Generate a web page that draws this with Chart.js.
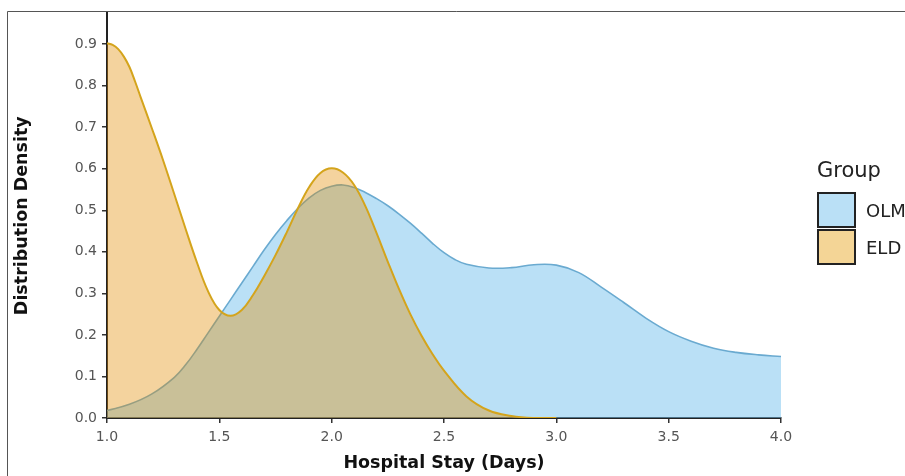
<!DOCTYPE html>
<html>
<head>
<meta charset="utf-8">
<script src="https://cdn.jsdelivr.net/npm/chart.js@4"></script>
<style>
html,body{margin:0;padding:0;background:#fff;overflow:hidden;}
#wrap{position:absolute;left:0;top:0;width:905px;height:476px;}
</style>
</head>
<body>
<div id="wrap"><canvas id="c" width="905" height="476"></canvas></div>
<script>
// ---- data ----
const groupNames = ["OLM", "ELD"];
const olmX = [1.0,1.1,1.2,1.3,1.35,1.4,1.45,1.5,1.55,1.6,1.65,1.7,1.75,1.8,1.85,1.9,1.95,2.0,2.05,2.1,2.15,2.2,2.25,2.3,2.35,2.4,2.45,2.5,2.55,2.6,2.7,2.8,2.9,3.0,3.1,3.2,3.3,3.4,3.5,3.6,3.7,3.8,3.9,4.0];
const olmY = [0.018,0.033,0.058,0.098,0.128,0.165,0.205,0.245,0.285,0.325,0.365,0.405,0.442,0.475,0.505,0.530,0.548,0.558,0.561,0.555,0.543,0.528,0.511,0.491,0.469,0.445,0.420,0.398,0.381,0.370,0.361,0.362,0.369,0.368,0.350,0.315,0.278,0.240,0.208,0.185,0.168,0.158,0.152,0.148];
const eldX = [1.0,1.025,1.05,1.075,1.1,1.125,1.15,1.2,1.25,1.3,1.35,1.4,1.45,1.5,1.55,1.6,1.65,1.7,1.75,1.8,1.85,1.9,1.95,2.0,2.05,2.1,2.15,2.2,2.25,2.3,2.35,2.4,2.45,2.5,2.6,2.7,2.8,2.9,3.0];
const eldY = [0.902,0.898,0.888,0.87,0.845,0.81,0.772,0.697,0.62,0.538,0.455,0.375,0.305,0.260,0.246,0.260,0.296,0.342,0.392,0.447,0.505,0.556,0.590,0.601,0.591,0.561,0.510,0.445,0.376,0.310,0.250,0.198,0.153,0.114,0.052,0.018,0.005,0.0,0.0];
const xTicks = [1.0,1.5,2.0,2.5,3.0,3.5,4.0];
const yTicks = [0.0,0.1,0.2,0.3,0.4,0.5,0.6,0.7,0.8,0.9];
const legendTitle = "Group";
const xTitle = "Hospital Stay (Days)";
const yTitle = "Distribution Density";

const toPts = (xs, ys) => xs.map((x, i) => ({x: x, y: ys[i]}));

const OLM_FILL = 'rgba(117,193,237,0.5)';
const ELD_FILL = 'rgba(226,140,0,0.38)';
const OLM_LINE = '#6aaad0';
const ELD_LINE = '#d4a41c';

const framePlugin = {
  id: 'frame',
  beforeDraw(chart) {
    const ctx = chart.ctx;
    ctx.save();
    ctx.fillStyle = '#fff';
    ctx.fillRect(0, 0, chart.width, chart.height);
    ctx.strokeStyle = '#555';
    ctx.lineWidth = 1;
    ctx.beginPath();
    ctx.moveTo(7.5, 476);
    ctx.lineTo(7.5, 11.5);
    ctx.lineTo(905, 11.5);
    ctx.stroke();
    ctx.restore();
  }
};

const legendPlugin = {
  id: 'customLegend',
  afterDraw(chart) {
    const ctx = chart.ctx;
    ctx.save();
    ctx.fillStyle = '#222';
    ctx.textBaseline = 'middle';
    ctx.textAlign = 'left';
    ctx.font = '21px "DejaVu Sans"';
    ctx.fillText(legendTitle, 817, 172);
    const fills = ['rgb(186,224,246)', 'rgb(244,213,150)'];
    const tops = [193, 230];
    ctx.font = '18px "DejaVu Sans"';
    groupNames.forEach((name, i) => {
      ctx.fillStyle = fills[i];
      ctx.fillRect(818, tops[i], 37, 34);
      ctx.strokeStyle = '#222';
      ctx.lineWidth = 2;
      ctx.strokeRect(818, tops[i], 37, 34);
      ctx.fillStyle = '#222';
      ctx.fillText(name, 866, tops[i] + 19);
    });
    ctx.restore();
  }
};

new Chart(document.getElementById('c'), {
  type: 'line',
  data: {
    datasets: [
      {
        label: groupNames[1],
        data: toPts(eldX, eldY),
        borderColor: ELD_LINE,
        backgroundColor: ELD_FILL,
        borderWidth: 2,
        fill: 'origin',
        pointRadius: 0,
        tension: 0.4,
        order: 0
      },
      {
        label: groupNames[0],
        data: toPts(olmX, olmY),
        borderColor: OLM_LINE,
        backgroundColor: OLM_FILL,
        borderWidth: 1.6,
        fill: 'origin',
        pointRadius: 0,
        tension: 0.4,
        order: 1
      }
    ]
  },
  options: {
    responsive: false,
    animation: false,
    layout: { padding: { left: 0, right: 124, top: 11, bottom: 0 } },
    plugins: {
      legend: { display: false },
      tooltip: { enabled: false }
    },
    scales: {
      x: {
        type: 'linear',
        min: 1, max: 4,
        afterFit(s) { s.height = 58; },
        afterBuildTicks(s) { s.ticks = xTicks.map(v => ({value: v})); },
        ticks: {
          callback: v => Number(v).toFixed(1),
          color: '#555',
          font: { family: 'DejaVu Sans', size: 14 },
          padding: 6,
          maxRotation: 0
        },
        grid: { drawOnChartArea: false, drawTicks: true, tickLength: 5, color: '#333', lineWidth: 1.5 },
        border: { display: true, color: '#222', width: 2 },
        title: {
          display: true, text: xTitle, color: '#111',
          font: { family: 'DejaVu Sans', size: 17.5, weight: 'bold' },
          padding: { top: 0, bottom: 2 }
        }
      },
      y: {
        type: 'linear',
        min: 0, max: 0.974,
        afterFit(s) { s.width = 107; },
        afterBuildTicks(s) { s.ticks = yTicks.map(v => ({value: v})); },
        ticks: {
          callback: v => Number(v).toFixed(1),
          color: '#555',
          font: { family: 'DejaVu Sans', size: 14 },
          padding: 5
        },
        grid: { drawOnChartArea: false, drawTicks: true, tickLength: 5, color: '#333', lineWidth: 1.5 },
        border: { display: true, color: '#222', width: 2 },
        title: {
          display: true, text: yTitle, color: '#111',
          font: { family: 'DejaVu Sans', size: 17.5, weight: 'bold' },
          padding: 12
        }
      }
    }
  },
  plugins: [framePlugin, legendPlugin]
});
</script>
</body>
</html>
